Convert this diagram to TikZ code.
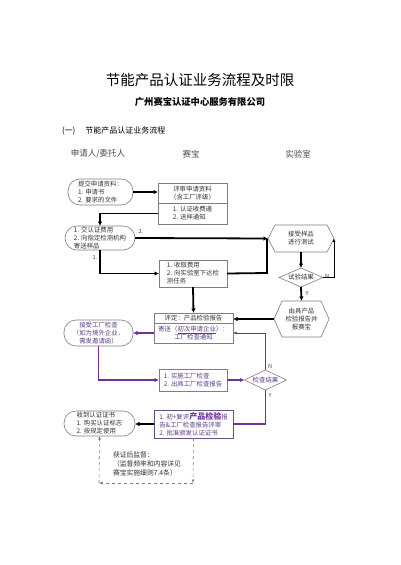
\documentclass[tikz,border=0pt]{standalone}
\usepackage{fontspec}
\setmainfont{Noto Sans CJK SC}
\usetikzlibrary{shapes.geometric,calc,arrows.meta}
\definecolor{pur}{HTML}{7030A0}
\definecolor{purtxt}{HTML}{5B3C88}
\definecolor{bord}{HTML}{7F7F7F}
\definecolor{txt}{HTML}{333333}
\begin{document}
\begin{tikzpicture}[x=1pt,y=-1pt,
 every node/.style={inner sep=0pt, outer sep=0pt, text=txt, font=\fontsize{6.4}{8}\selectfont},
 box/.style={draw=bord, line width=0.6pt, rectangle},
 pill/.style={draw=bord, line width=0.6pt, rectangle, rounded corners=12pt},
 dia/.style={draw=bord, line width=0.6pt, diamond, aspect=2.3},
 hexnode/.style={rectangle, align=center},
 thk/.style={line width=1.8pt, draw=black},
 thkp/.style={line width=1.8pt, draw=pur},
 thn/.style={line width=0.5pt, draw=black},
 thnp/.style={line width=0.6pt, draw=pur},
 tip/.style={-{Latex[length=4.5pt,width=4.5pt]}},
 smalltip/.style={-{Latex[length=3.5pt,width=3pt]}},
 lbl/.style={font=\fontsize{5.5}{6}\selectfont},
]
\fill[white] (0,0) rectangle (400,565);
\useasboundingbox (0,0) rectangle (400,565);

% titles
\node[font=\fontsize{14.5}{16}\selectfont, text=black] (title) at (200,80) {节能产品认证业务流程及时限};
\node[font=\fontsize{9.3}{11}\selectfont\bfseries, text=black] (sub) at (200,102) {广州赛宝认证中心服务有限公司};
\node[anchor=west, font=\fontsize{8}{10}\selectfont, text=black] (sec) at (62,131) {(一)\hspace{10pt}节能产品认证业务流程};
\node[font=\fontsize{8.5}{10}\selectfont, text=black!70] (h1) at (98,154) {申请人/委托人};
\node[font=\fontsize{8.5}{10}\selectfont, text=black!70] (h2) at (191,154) {赛宝};
\node[font=\fontsize{8.5}{10}\selectfont, text=black!70] (h3) at (298,154) {实验室};

% nodes
\node[pill, minimum width=65, minimum height=26, align=left] (n1) at (100.5,192) {提交申请资料：\\1. 申请书\\2. 要求的文件};
\node[box, minimum width=69, minimum height=20, align=center] (r2t) at (192.5,193) {评审申请资料\\（含工厂评级）};
\node[box, minimum width=69, minimum height=21, align=left, anchor=north] (r2b) at (r2t.south) {1. 认证收费通\\2. 送样通知};
\node[pill, minimum width=70, minimum height=24, align=left] (n4) at (100,238) {1. 交认证费用\\2. 向指定检测机构\\寄送样品};
\node[box, minimum width=68, minimum height=27, align=left] (r5) at (193,273.5) {1. 收取费用\\2. 向实验室下达检\\测任务};
\node[hexnode, minimum width=66, minimum height=27] (hex1) at (301,238.5) {接受样品\\进行测试};
\draw[bord, line width=0.6pt] ($(hex1.north west)+(7,0)$) -- ($(hex1.north east)+(-7,0)$) -- (hex1.east) -- ($(hex1.south east)+(-7,0)$) -- ($(hex1.south west)+(7,0)$) -- (hex1.west) -- cycle;
\node[dia, minimum width=44, minimum height=19] (d1) at (301,277.5) {试验结果};
\node[hexnode, minimum width=55, minimum height=36] (hex2) at (301.5,319) {由具产品\\检验报告并\\报赛宝};
\draw[bord, line width=0.6pt] ($(hex2.north west)+(8,0)$) -- ($(hex2.north east)+(-8,0)$) -- (hex2.east) -- ($(hex2.south east)+(-8,0)$) -- ($(hex2.south west)+(8,0)$) -- (hex2.west) -- cycle;
\node[box, minimum width=79, minimum height=10] (r9t) at (193.5,318) {评定：产品检验报告};
\node[box, minimum width=79, minimum height=20, anchor=north, align=center, text=purtxt] (r9b) at (r9t.south) {寄送（\underline{初次申请企业}）：\\工厂检查通知};
\node[pill, minimum width=69, minimum height=26, align=center, text=purtxt] (n10) at (98.5,333) {接受工厂检查\\（如为境外企业，\\需发邀请函）};
\node[box, minimum width=68, minimum height=22, align=left, text=purtxt] (r11) at (193,380) {1. 实施工厂检查\\2. 出具工厂检查报告};
\node[dia, minimum width=42, minimum height=20, text=purtxt] (d2) at (265.5,380) {检查结果};
\node[box, draw=purtxt!70!gray, minimum width=79, minimum height=28, align=left, text=purtxt] (r12) at (193.5,424) {1. 初+复评{\fontsize{8}{8}\selectfont\bfseries\color{pur}产品检验}报\\告\&工厂检查报告评审\\2. 批准颁发认证证书};
\node[pill, minimum width=71, minimum height=25, align=left] (n13) at (99.5,423.5) {收到认证证书\\1. 购买认证标志\\2. 按规定使用};
\node[align=left, font=\fontsize{6.8}{9}\selectfont] (sup) at (147,464) {获证后监督：\\（监督频率和内容详见\\赛宝实施细则7.4条）};

\coordinate (c1) at (193,483);
\coordinate (c2) at (99,483);
\coordinate (j1) at (267,273);

% connectors
\draw[thk, tip] (n1.east) -- (n1.east -| r2t.west);
\draw[thk, tip] (r2b.west) -| (n4.north);
\draw[thk, tip] (n4.east) -- (hex1.west);
\draw[thk, tip] (n4.south) |- (r5.west);
\draw[thk] (r5.east) -- (j1) -- (j1 |- hex1.west);
\draw[thk, tip] (hex1.south) -- (d1.north);
\draw[thn, smalltip] (d1.east) -| (hex1.east);
\draw[thk, tip] (d1.south) -- (hex2.north);
\draw[thk, tip] (hex2.west) -- (hex2.west -| r9t.east);
\draw[thk, tip] (r5.south) -- (r9t.north);
\draw[thkp, tip] (r9b.west) -- (r9b.west -| n10.east);
\draw[thkp, tip] (n10.south) |- (r11.west);
\draw[thkp, tip] (r11.east) -- (d2.west);
\draw[thnp, smalltip] (d2.north) |- (r9b.east);
\draw[thkp] (d2.south) |- (r12.east);
\draw[thk, tip] (r12.west) -- (r12.west -| n13.east);
\draw[gray, dashed, line width=0.6pt, smalltip] (r12.south) -- (c1);
\draw[gray, dashed, line width=0.6pt, smalltip] (c1) -- (c2);
\draw[gray, dashed, line width=0.6pt, smalltip] (c2) -- (n13.south);

% labels
\node[lbl] (l2) at (141,232) {2.};
\node[lbl] (l1) at (95,258) {1.};
\node[lbl] (lN1) at (327,276) {N};
\node[lbl] (lY1) at (307,293) {Y};
\node[lbl, text=purtxt] (lN2) at (270,366) {N};
\node[lbl, text=purtxt] (lY2) at (270,395) {Y};
\end{tikzpicture}
\end{document}
